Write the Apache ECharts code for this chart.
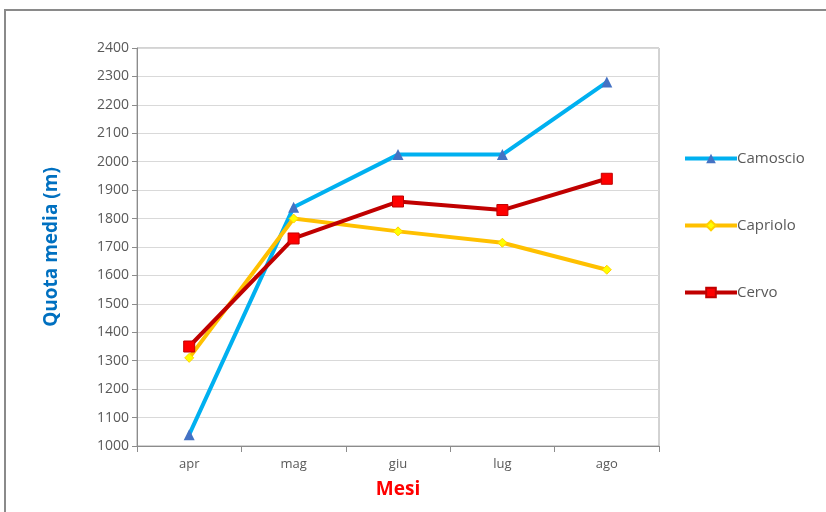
<!DOCTYPE html>
<html>
<head>
<meta charset="utf-8">
<script src="https://cdn.jsdelivr.net/npm/echarts@6/dist/echarts.min.js"></script>
<style>
  html, body { margin: 0; padding: 0; background: #fff; }
  #chart { width: 826px; height: 512px; }
</style>
</head>
<body>
<div id="chart"></div>
<script>
// Months on the category axis
const months = ['apr', 'mag', 'giu', 'lug', 'ago'];

// Mean altitude (m) per species
const camoscio = [1040, 1840, 2025, 2025, 2280];
const capriolo = [1310, 1800, 1755, 1715, 1620];
const cervo = [1350, 1730, 1860, 1830, 1940];

const FONT = '"Open Sans", "Liberation Sans", sans-serif';

const chart = echarts.init(document.getElementById('chart'), null, { renderer: 'canvas' });

chart.setOption({
  animation: false,
  backgroundColor: '#ffffff',
  graphic: [{
    type: 'rect',
    shape: { x: 5, y: 10, width: 840, height: 540 },
    style: { fill: 'none', stroke: '#8a8a8a', lineWidth: 2 },
    silent: true,
    z: -10
  }],
  grid: {
    left: 137, top: 48, width: 522, height: 398,
    show: true, borderColor: '#a6a6a6', borderWidth: 1
  },
  legend: {
    orient: 'vertical',
    left: 678, top: 146,
    itemGap: 52,
    itemWidth: 52, itemHeight: 12,
    lineStyle: { width: 4 },
    textStyle: { fontFamily: FONT, fontSize: 15, color: '#595959', padding: [0, 0, 0, -5] },
    data: ['Camoscio', 'Capriolo', 'Cervo']
  },
  xAxis: {
    type: 'category',
    data: months,
    boundaryGap: true,
    name: 'Mesi',
    nameLocation: 'middle',
    nameGap: 34,
    nameTextStyle: { fontFamily: FONT, fontSize: 19, fontWeight: 'bold', color: '#ff0000' },
    axisLine: { lineStyle: { color: '#8c8c8c', width: 1 } },
    axisTick: { show: true, length: 6, lineStyle: { color: '#8c8c8c' } },
    axisLabel: { fontFamily: FONT, fontSize: 13, color: '#595959', margin: 12 },
    splitLine: { show: false }
  },
  yAxis: {
    type: 'value',
    min: 1000, max: 2400, interval: 100,
    name: 'Quota media (m)',
    nameLocation: 'middle',
    nameGap: 76,
    nameTextStyle: { fontFamily: FONT, fontSize: 19, fontWeight: 'bold', color: '#0070c0' },
    axisLine: { show: true, lineStyle: { color: '#8c8c8c', width: 1 } },
    axisTick: { show: true, length: 5, lineStyle: { color: '#8c8c8c' } },
    axisLabel: { fontFamily: FONT, fontSize: 14, color: '#595959', margin: 8, formatter: v => String(v) },
    splitLine: { show: true, lineStyle: { color: '#d9d9d9', width: 1 } }
  },
  series: [
    {
      name: 'Camoscio', type: 'line', data: camoscio,
      symbol: 'triangle', symbolSize: 11,
      lineStyle: { color: '#00b0f0', width: 4 },
      itemStyle: { color: '#4472c4', borderWidth: 0 },
      z: 3
    },
    {
      name: 'Capriolo', type: 'line', data: capriolo,
      symbol: 'diamond', symbolSize: 9,
      lineStyle: { color: '#ffc000', width: 4 },
      itemStyle: { color: '#ffff00', borderColor: '#ffd000', borderWidth: 1 },
      z: 4
    },
    {
      name: 'Cervo', type: 'line', data: cervo,
      symbol: 'rect', symbolSize: 11,
      lineStyle: { color: '#c00000', width: 4 },
      itemStyle: { color: '#ff0000', borderColor: '#c00000', borderWidth: 1 },
      z: 5
    }
  ]
});
</script>
</body>
</html>
